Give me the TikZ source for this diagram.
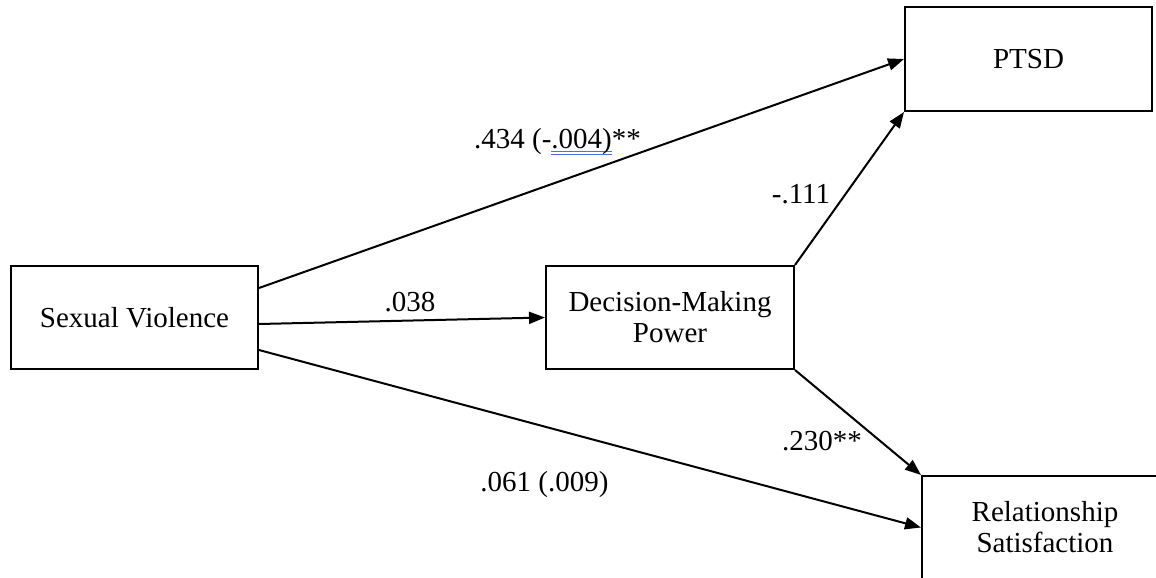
\documentclass[tikz,border=0pt]{standalone}
\usepackage{fontspec}
\setmainfont{Liberation Serif}
\usetikzlibrary{arrows.meta}
\definecolor{ulblue}{RGB}{75,115,215}
\newcommand\dblul[1]{\setbox0\hbox{#1}\rlap{\textcolor{ulblue}{\rule[-4.2pt]{\wd0}{1.3pt}}}\rlap{\textcolor{ulblue}{\rule[-7.4pt]{\wd0}{1.3pt}}}\box0}
\tikzset{
  box/.style={draw=black, line width=2pt, fill=white, align=center, inner sep=0pt,
    font=\fontsize{29}{31}\selectfont},
  arr/.style={line width=2pt, -{Triangle[length=16pt,width=12pt]}},
  lbl/.style={anchor=base, inner sep=0pt, font=\fontsize{29}{31}\selectfont}
}
\begin{document}
\begin{tikzpicture}[x=1pt,y=-1pt]
\useasboundingbox (0,0) rectangle (1156,578);
\clip (0,0) rectangle (1156,578);
\node[box, minimum width=247pt, minimum height=103pt] (sv) at (134.5,317.5) {Sexual Violence};
\node[box, minimum width=248pt, minimum height=103pt] (dmp) at (670,317.5) {Decision-Making\\Power};
\node[box, minimum width=247pt, minimum height=104pt] (ptsd) at (1028.5,59) {PTSD};
\node[box, minimum width=246pt, minimum height=103pt] (rs) at (1045,527.5) {Relationship\\Satisfaction};
\draw[arr] ([yshift=29.5pt]sv.east) -- (ptsd.west);
\draw[arr] ([yshift=-6.5pt]sv.east) -- (dmp.west);
\draw[arr] ([yshift=-32.5pt]sv.east) -- (rs.west);
\draw[arr] (dmp.north east) -- (ptsd.south west);
\draw[arr] (dmp.south east) -- (rs.north west);
\node[lbl] (l1) at (557.5,148) {.434 (-\dblul{.004)}**};
\node[lbl] (l2) at (410,311) {.038};
\node[lbl] (l3) at (801,203) {-.111};
\node[lbl] (l4) at (822,450) {.230**};
\node[lbl] (l5) at (544.5,491) {.061 (.009)};
\end{tikzpicture}
\end{document}
